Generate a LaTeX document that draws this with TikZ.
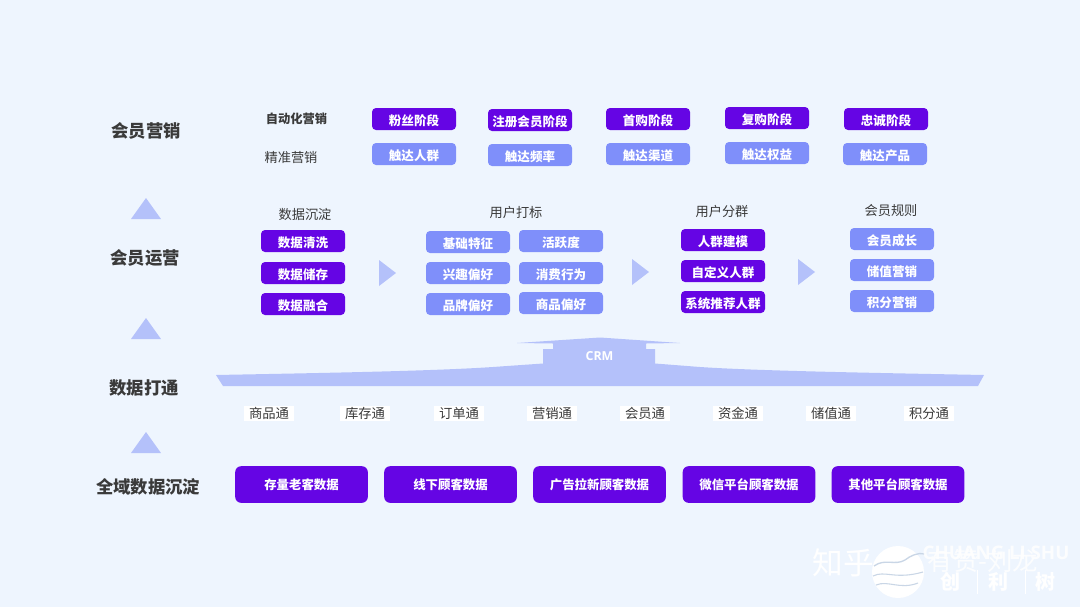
\documentclass[tikz,border=0pt]{standalone}
\usepackage{fontspec}
\setmainfont{Noto Sans CJK SC}
\newfontfamily\latinf{Open Sans}
\definecolor{bgc}{HTML}{EEF5FE}
\definecolor{darkp}{HTML}{6505E4}
\definecolor{midb}{HTML}{7F8FFA}
\definecolor{lightb}{HTML}{B4C1FA}
\definecolor{labc}{HTML}{3A3A3A}
\definecolor{waveb}{HTML}{C9D6E6}
\tikzset{
 x=0.75pt,y=-0.75pt,
 dbox/.style={fill=darkp,text=white,rounded corners=3pt,minimum width=63pt,minimum height=16.5pt,inner sep=0pt,text height=10.6pt,text depth=.8pt,font=\fontsize{9.4}{10}\selectfont\bfseries},
 lbox/.style={fill=midb,text=white,rounded corners=3pt,minimum width=63pt,minimum height=16.5pt,inner sep=0pt,text height=10.6pt,text depth=.8pt,font=\fontsize{9.4}{10}\selectfont\bfseries},
 bigbox/.style={fill=darkp,text=white,rounded corners=4.5pt,minimum width=99.5pt,minimum height=27.5pt,inner sep=0pt,font=\fontsize{9.3}{10}\selectfont\bfseries},
 sect/.style={text=labc,inner sep=0pt,font=\fontsize{13}{14}\selectfont\bfseries},
 subl/.style={text=labc,inner sep=0pt,font=\fontsize{9.9}{11}\selectfont},
 tong/.style={fill=white,text=labc,inner sep=0pt,minimum width=37.5pt,minimum height=11.5pt,font=\fontsize{10}{11}\selectfont},
 tri/.style={fill=lightb,draw=none},
 mark1/.style={text=white,inner sep=0pt},
}
\begin{document}
\begin{tikzpicture}
\useasboundingbox (0,0) rectangle (1080,607);
\fill[bgc] (0,0) rectangle (1080,607);

% section labels
\node[sect] (s1) at (146,131) {会员营销};
\node[sect] (s2) at (145,258) {会员运营};
\node[sect] (s3) at (144,388) {数据打通};
\node[sect] (s4) at (148,487) {全域数据沉淀};

% up triangles
\fill[tri] (131,219) -- (146,198) -- (161,219) -- cycle;
\fill[tri] (131,339) -- (146,318) -- (161,339) -- cycle;
\fill[tri] (131,453) -- (146,432) -- (161,453) -- cycle;

% row 1
\node[subl,font=\fontsize{9.2}{10}\selectfont\bfseries] (a0) at (296.5,118.5) {自动化营销};
\node[subl] (b0) at (291,157) {精准营销};
\node[dbox] (a1) at (414,119) {粉丝阶段};
\node[dbox] (a2) at (530,120) {注册会员阶段};
\node[dbox] (a3) at (648,119) {首购阶段};
\node[dbox] (a4) at (767,118) {复购阶段};
\node[dbox] (a5) at (886,119) {忠诚阶段};
\node[lbox] (b1) at (414,154) {触达人群};
\node[lbox] (b2) at (530,155) {触达频率};
\node[lbox] (b3) at (648,154) {触达渠道};
\node[lbox] (b4) at (767,153) {触达权益};
\node[lbox] (b5) at (885,154) {触达产品};

% column headings
\node[subl] (h1) at (305,214) {数据沉淀};
\node[subl] (h2) at (516,212) {用户打标};
\node[subl] (h3) at (722,211) {用户分群};
\node[subl] (h4) at (891,211) {会员规则};

% column 1
\node[dbox] (c1) at (303,241) {数据清洗};
\node[dbox] (c2) at (303,273) {数据储存};
\node[dbox] (c3) at (303,304) {数据融合};

% column 2
\node[lbox] (d1) at (468,242) {基础特征};
\node[lbox] (d2) at (561,241) {活跃度};
\node[lbox] (d3) at (468,273) {兴趣偏好};
\node[lbox] (d4) at (561,273) {消费行为};
\node[lbox] (d5) at (468,304) {品牌偏好};
\node[lbox] (d6) at (561,303) {商品偏好};

% column 3
\node[dbox] (e1) at (723,240) {人群建模};
\node[dbox] (e2) at (723,271) {自定义人群};
\node[dbox] (e3) at (723,302) {系统推荐人群};

% column 4
\node[lbox] (f1) at (892,239) {会员成长};
\node[lbox] (f2) at (892,270) {储值营销};
\node[lbox] (f3) at (892,301) {积分营销};

% right triangles
\fill[tri] (379,260) -- (396,273) -- (379,286) -- cycle;
\fill[tri] (632,259) -- (649,272) -- (632,285) -- cycle;
\fill[tri] (798,259) -- (815,272) -- (798,285) -- cycle;

% CRM roof
\fill[lightb] (216,375) .. controls (320,373) and (440,371) .. (500,366.5)
 -- (543,363.5) -- (543,349) -- (553,349) -- (553,343.5) -- (517,343)
 -- (600,337.5) -- (680,343) -- (646,343.5) -- (646,349) -- (655,349) -- (655,363.5)
 -- (700,367) .. controls (760,371) and (880,373) .. (984,375)
 -- (978,386) -- (223,386) -- cycle;
\node[text=white,inner sep=0pt,font=\latinf\fontsize{9.3}{10}\selectfont\bfseries] (crm) at (599.5,356.5) {CRM};

% tong row
\node[tong] (t1) at (269,413.5) {商品通};
\node[tong] (t2) at (365,413.5) {库存通};
\node[tong] (t3) at (459,413.5) {订单通};
\node[tong] (t4) at (552,413.5) {营销通};
\node[tong] (t5) at (645,413.5) {会员通};
\node[tong] (t6) at (738,413.5) {资金通};
\node[tong] (t7) at (831,413.5) {储值通};
\node[tong] (t8) at (929,413.5) {积分通};

% bottom row
\node[bigbox] (g1) at (301.5,484.5) {存量老客数据};
\node[bigbox] (g2) at (450.5,484.5) {线下顾客数据};
\node[bigbox] (g3) at (599.5,484.5) {广告拉新顾客数据};
\node[bigbox] (g4) at (749,484.5) {微信平台顾客数据};
\node[bigbox] (g5) at (898,484.5) {其他平台顾客数据};

% watermark
\node[mark1,font=\fontsize{23}{24}\selectfont] (w1) at (843.5,563) {知乎};
\fill[white] (898,572) circle[radius=26];
\draw[waveb,line width=1pt] (874,566) .. controls (885,558) and (895,566) .. (905,560) .. controls (910,556) and (918,552) .. (925,554);
\draw[waveb,line width=.8pt] (873,576) .. controls (885,570) and (895,580) .. (923,572);
\draw[waveb,line width=.8pt] (876,585) .. controls (888,580) and (900,590) .. (918,583);
\node[mark1,font=\fontsize{19}{20}\selectfont,opacity=.85] (w2) at (983,561) {有赞-刘龙};
\node[mark1,font=\latinf\fontsize{14}{15}\selectfont\bfseries,opacity=.85] (w3) at (996,553) {CHUANG LI SHU};
\node[mark1,font=\fontsize{15}{16}\selectfont\bfseries] (w4) at (950,582) {创};
\node[mark1,font=\fontsize{15}{16}\selectfont\bfseries] (w5) at (998,582) {利};
\node[mark1,font=\fontsize{15}{16}\selectfont\bfseries] (w6) at (1045,582) {树};
\fill[white] (976.5,570) rectangle (978,594);
\fill[white] (1024.5,570) rectangle (1026,594);
\end{tikzpicture}
\end{document}
